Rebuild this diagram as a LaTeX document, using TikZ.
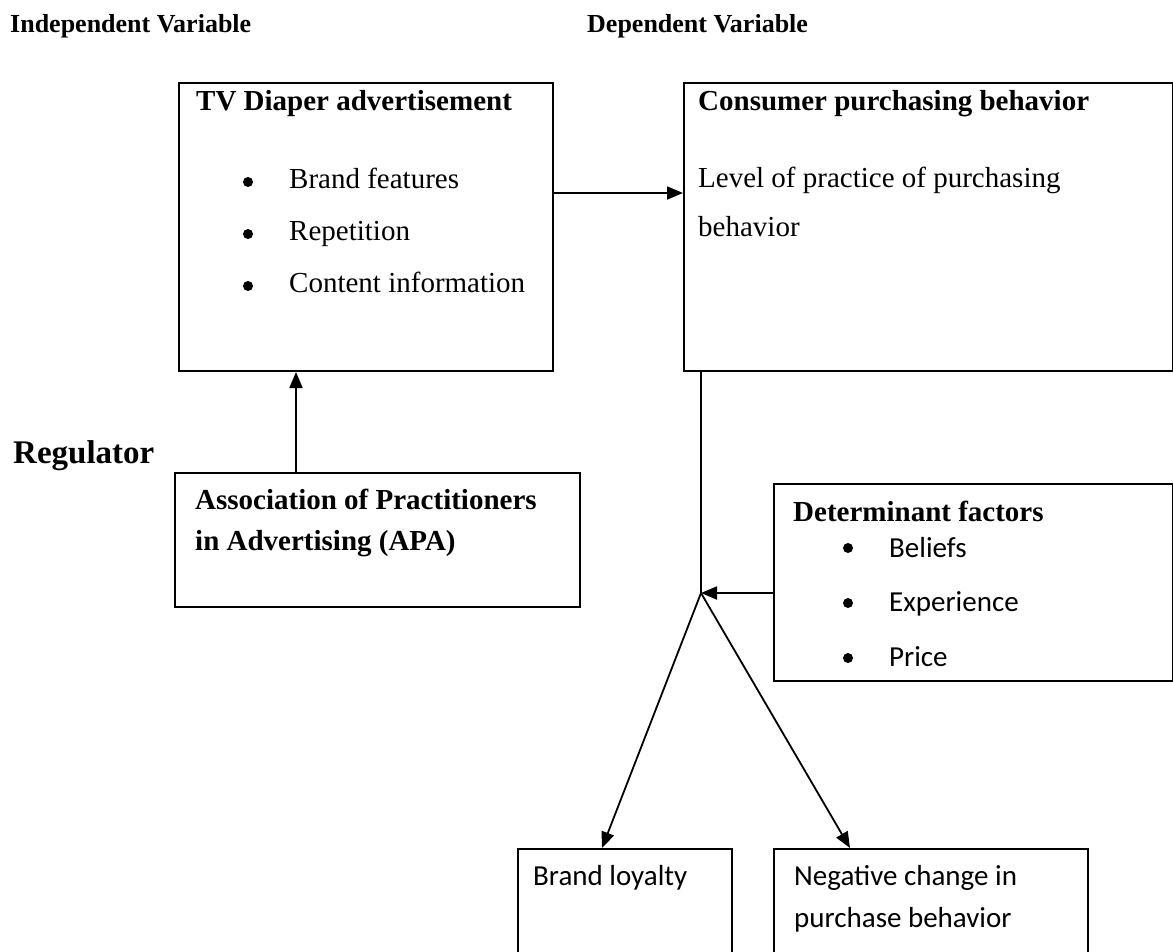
\documentclass[tikz,border=0pt]{standalone}
\usepackage{fontspec}
\setmainfont{Liberation Serif}
\newfontfamily\calfont{Carlito}
\usetikzlibrary{arrows.meta}
\tikzset{
  box/.style={draw, line width=2pt, rectangle, inner sep=0pt, anchor=north west},
  txt/.style={anchor=base west, inner sep=0pt, font=\fontsize{29}{34}\selectfont},
  btxt/.style={anchor=base west, inner sep=0pt, font=\fontsize{29}{34}\selectfont\bfseries},
  ctxt/.style={anchor=base west, inner sep=0pt, font=\fontsize{29}{34}\selectfont\calfont},
  htxt/.style={anchor=base west, inner sep=0pt, font=\fontsize{26}{30}\selectfont\bfseries},
  dot/.style={circle, fill, inner sep=0pt, minimum size=10pt},
  arr/.style={line width=1.8pt, -{Triangle[length=16pt,width=13pt]}},
  ln/.style={line width=1.8pt}
}
\begin{document}
\begin{tikzpicture}[x=1pt,y=-1pt]
\clip (0,0) rectangle (1173,951);
\fill[white] (0,0) rectangle (1173,951);
% headings
\node[htxt] (hind) at (10,32) {Independent Variable};
\node[htxt] (hdep) at (587,32) {Dependent Variable};
\node[anchor=base west, inner sep=0pt, font=\fontsize{33}{38}\selectfont\bfseries] (hreg) at (13,463) {Regulator};
% boxes
\node[box, minimum width=374pt, minimum height=288pt] (tv) at (178,82) {};
\node[box, minimum width=489pt, minimum height=288pt] (cpb) at (683,82) {};
\node[box, minimum width=405pt, minimum height=134pt] (apa) at (174,472) {};
\node[box, minimum width=399pt, minimum height=197pt] (det) at (773,483) {};
\node[box, minimum width=214pt, minimum height=140pt] (bl) at (517,848) {};
\node[box, minimum width=314pt, minimum height=140pt] (neg) at (773,848) {};
% TV box text
\node[btxt] (tvt) at (196,110) {TV Diaper advertisement};
\node[dot] (tvb1) at (248,182) {};
\node[dot] (tvb2) at (248,234) {};
\node[dot] (tvb3) at (248,286) {};
\node[txt] (tvi1) at (289,188) {Brand features};
\node[txt] (tvi2) at (289,240) {Repetition};
\node[txt] (tvi3) at (289,292) {Content information};
% CPB box text
\node[btxt] (cpbt) at (698,110) {Consumer purchasing behavior};
\node[txt] (cpb1) at (698,187) {Level of practice of purchasing};
\node[txt] (cpb2) at (698,236) {behavior};
% APA text
\node[btxt] (apa1) at (195,509) {Association of Practitioners};
\node[btxt] (apa2) at (195,550) {in Advertising (APA)};
% Determinant text
\node[btxt] (dett) at (793,521) {Determinant factors};
\node[dot] (detb1) at (848,548) {};
\node[dot] (detb2) at (848,603) {};
\node[dot] (detb3) at (848,658) {};
\node[ctxt] (deti1) at (889,557) {Beliefs};
\node[ctxt] (deti2) at (889,611) {Experience};
\node[ctxt] (deti3) at (889,666) {Price};
% bottom boxes text
\node[ctxt] (blt) at (533,885) {Brand loyalty};
\node[ctxt] (neg1) at (794,885) {Negative change in};
\node[ctxt] (neg2) at (794,927) {purchase behavior};
% connectors
\coordinate (j) at (701,593);
\draw[arr] (tv.east |- 0,193) -- (cpb.west |- 0,193);
\draw[arr] (apa.north -| 296,0) -- (tv.south -| 296,0);
\draw[ln] (cpb.south -| j) -- (j);
\draw[arr] (det.west |- j) -- (j);
\draw[arr] (j) -- (bl.north -| 602,0);
\draw[arr] (j) -- (neg.north -| 850,0);
\end{tikzpicture}
\end{document}
